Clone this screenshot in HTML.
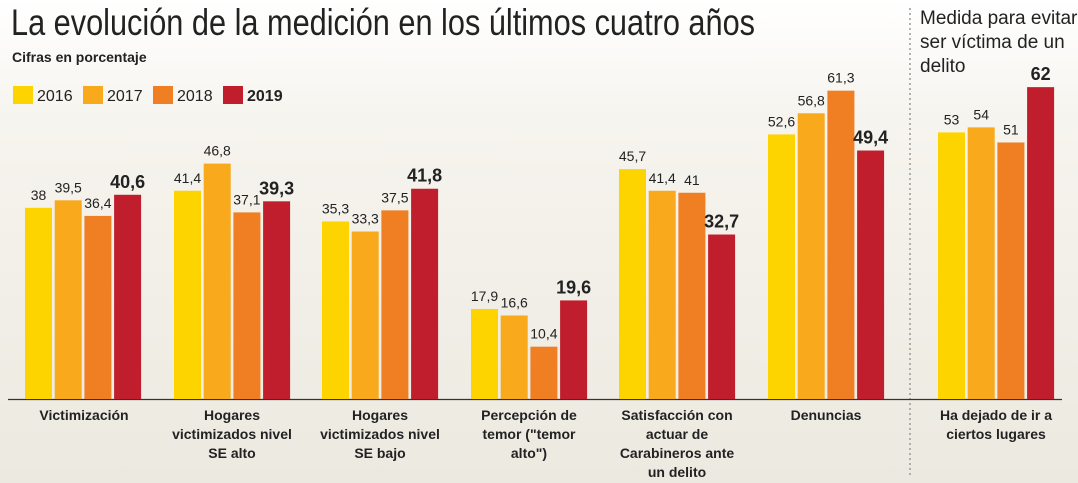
<!DOCTYPE html>
<html><head><meta charset="utf-8"><style>
html,body{margin:0;padding:0}
body{width:1078px;height:483px;overflow:hidden;background:linear-gradient(#ffffff 0px,#f6f4ee 120px,#ece9e0 483px);}
svg{display:block}
text{font-family:"Liberation Sans Narrow","Liberation Sans",sans-serif;fill:#222}
</style></head><body>
<svg width="1078" height="483" viewBox="0 0 1078 483">
<text x="11" y="35" font-size="37" fill="#222" style="font-weight:300" textLength="744" lengthAdjust="spacingAndGlyphs">La evolución de la medición en los últimos cuatro años</text>
<text x="12" y="62" font-size="14" font-weight="bold" fill="#333">Cifras en porcentaje</text>
<rect x="13" y="86" width="20" height="18" fill="#fdd400"/><text x="37" y="101" font-size="16">2016</text>
<rect x="83" y="86" width="20" height="18" fill="#f8aa1c"/><text x="107" y="101" font-size="16">2017</text>
<rect x="153" y="86" width="20" height="18" fill="#f07e22"/><text x="177" y="101" font-size="16">2018</text>
<rect x="223" y="86" width="20" height="18" fill="#c01e2d"/><text x="247" y="101" font-size="16" font-weight="bold">2019</text>
<text x="920" y="24" font-size="19" fill="#333">Medida para evitar</text>
<text x="920" y="48" font-size="19" fill="#333">ser víctima de un</text>
<text x="920" y="72" font-size="19" fill="#333">delito</text>
<line x1="910" y1="8" x2="910" y2="478" stroke="#999" stroke-width="1.5" stroke-dasharray="2,3"/>
<line x1="8" y1="399.5" x2="1062" y2="399.5" stroke="#333" stroke-width="1.2"/>
<g font-size="14" font-weight="bold" fill="#333" text-anchor="middle">
<text x="84" y="420">Victimización</text>
<text x="232" y="420">Hogares</text><text x="232" y="439">victimizados nivel</text><text x="232" y="458">SE alto</text>
<text x="380" y="420">Hogares</text><text x="380" y="439">victimizados nivel</text><text x="380" y="458">SE bajo</text>
<text x="529" y="420">Percepción de</text><text x="529" y="439">temor ("temor</text><text x="529" y="458">alto")</text>
<text x="677" y="420">Satisfacción con</text><text x="677" y="439">actuar de</text><text x="677" y="458">Carabineros ante</text><text x="677" y="477">un delito</text>
<text x="826" y="420">Denuncias</text>
<text x="996" y="420">Ha dejado de ir a</text><text x="996" y="439">ciertos lugares</text>
</g>
<g id="b">
</g>
</svg>
<script>
var data=[[38,39.5,36.4,40.6],[41.4,46.8,37.1,39.3],[35.3,33.3,37.5,41.8],[17.9,16.6,10.4,19.6],[45.7,41.4,41,32.7],[52.6,56.8,61.3,49.4],[53,54,51,62]];
var starts=[25,174,322,471,619,768,938];
var cols=["#fdd400","#f8aa1c","#f07e22","#c01e2d"];
var g=document.getElementById("b"),s="";
data.forEach(function(d,i){d.forEach(function(v,j){
var x=starts[i]+j*29.7,h=v*5.03,y=399-h;
s+='<rect x="'+x+'" y="'+y+'" width="27" height="'+h+'" fill="'+cols[j]+'"/>';
var lab=String(v).replace(".",",");
s+='<text x="'+(x+13.5)+'" y="'+(y-(j==3?7:8))+'" text-anchor="middle" font-size="'+(j==3?18:14)+'" '+(j==3?'font-weight="bold"':'')+'>'+lab+'</text>';
});});
g.innerHTML=s;
</script>
</body></html>
